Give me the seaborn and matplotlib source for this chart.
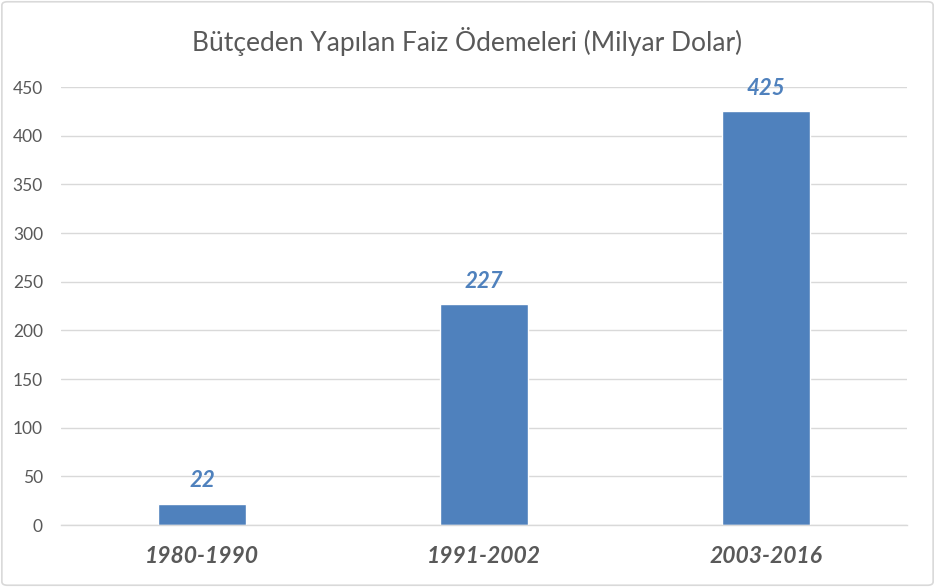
import matplotlib
matplotlib.use('Agg')
import matplotlib.pyplot as plt
import seaborn as sns
import pandas as pd
from matplotlib.patches import FancyBboxPatch

# Chart values
periods = ['1980-1990', '1991-2002', '2003-2016']
payments = [22, 227, 425]
y_ticks = [0, 50, 100, 150, 200, 250, 300, 350, 400, 450]

df = pd.DataFrame({'Period': periods, 'Payment': payments})

sns.set_style('white')
plt.rcParams['font.family'] = ['Lato', 'DejaVu Sans']

fig = plt.figure(figsize=(9.35, 5.87), dpi=100)
ax = fig.add_axes([61 / 935, 62 / 587, 846 / 935, 438 / 587])

bar_color = '#4F81BD'
sns.barplot(data=df, x='Period', y='Payment', color=bar_color, width=0.31,
            saturation=1, ax=ax)

ax.set_ylim(0, 450)
ax.set_xlim(-0.5, 2.5)
ax.set_yticks(y_ticks)
ax.yaxis.grid(True, color='#D9D9D9', linewidth=1)
ax.set_axisbelow(True)
for s in ['top', 'right', 'left']:
    ax.spines[s].set_visible(False)
ax.spines['bottom'].set_color('#D9D9D9')
ax.spines['bottom'].set_linewidth(1)

ax.tick_params(axis='y', length=0, labelsize=12.5, labelcolor='#595959', pad=13)
ax.tick_params(axis='x', length=0, labelsize=16.5, labelcolor='#595959', pad=15)
for lbl in ax.get_xticklabels():
    lbl.set_fontweight('bold')
    lbl.set_fontstyle('italic')
ax.set_xlabel('')
ax.set_ylabel('')

# Data labels above the bars
for i, v in enumerate(payments):
    ax.annotate(str(v), (i, v), xytext=(0, 9), textcoords='offset points',
                ha='center', va='bottom', fontsize=16, fontweight='bold',
                fontstyle='italic', color=bar_color)

fig.text(0.5, 1 - 42 / 587, 'Bütçeden Yapılan Faiz Ödemeleri (Milyar Dolar)',
         ha='center', va='center', fontsize=19, color='#595959')

# Light chart border
border = FancyBboxPatch((0.002, 0.003), 0.996, 0.994, boxstyle='round,pad=0,rounding_size=0.006',
                        transform=fig.transFigure, fill=False, edgecolor='#D9D9D9',
                        linewidth=1.2)
fig.patches.append(border)

fig.savefig('out.png', dpi=100)
